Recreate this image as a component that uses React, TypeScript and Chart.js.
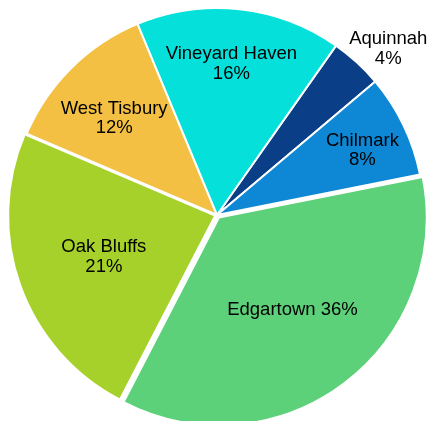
import React, { useEffect, useRef } from "react";
import { Chart, registerables } from "chart.js";

Chart.register(...registerables);

// Data (clockwise from the top-right)
const towns = ["Aquinnah", "Chilmark", "Edgartown", "Oak Bluffs", "West Tisbury", "Vineyard Haven"];
const shares = [4.1, 8.0, 35.7, 23.8, 12.3, 16.0];
const percentLabels = ["4%", "8%", "36%", "21%", "12%", "16%"];
const sliceColors = ["#0A3E86", "#0E87D5", "#5DD07A", "#A6D12A", "#F4C043", "#05E0DA"];

// Label layout: fraction of radius, angular shift (deg) from the slice mid-angle, single-line flag
const labelRadius = [1.158, 0.772, 0.58, 0.58, 0.687, 0.741];
const labelAngleShift = [3.1, 1.2, -2.0, 0.2, -1.6, -0.9];
const singleLine = [false, false, true, false, false, false];
const sliceOffsets = [0, 0, 13, 8, 0, 0];

const labelPlugin = {
  id: "sliceLabels",
  afterDatasetsDraw(chart: any) {
    const ctx = chart.ctx;
    const meta = chart.getDatasetMeta(0);
    ctx.save();
    ctx.fillStyle = "#000000";
    ctx.font = '18.5px "Liberation Sans", Arial, sans-serif';
    ctx.textAlign = "center";
    ctx.textBaseline = "alphabetic";
    meta.data.forEach((arc: any, i: number) => {
      const p = arc.getProps(["x", "y", "startAngle", "endAngle", "outerRadius"], true);
      const mid = (p.startAngle + p.endAngle) / 2 + (labelAngleShift[i] * Math.PI) / 180;
      const r = p.outerRadius * labelRadius[i];
      const x = p.x + Math.cos(mid) * r;
      const y = p.y + Math.sin(mid) * r;
      if (singleLine[i]) {
        ctx.fillText(towns[i] + " " + percentLabels[i], x, y + 6.6);
      } else {
        ctx.fillText(towns[i], x, y - 3.1);
        ctx.fillText(percentLabels[i], x, y + 16.4);
      }
    });
    ctx.restore();
  },
};

export default function App() {
  const ref = useRef<HTMLCanvasElement | null>(null);
  useEffect(() => {
    if (!ref.current) return;
    const chart = new Chart(ref.current, {
      type: "pie",
      data: {
        labels: towns,
        datasets: [
          {
            data: shares,
            backgroundColor: sliceColors,
            borderColor: "#FFFFFF",
            borderWidth: 2,
            offset: sliceOffsets,
            hoverOffset: 0,
          },
        ],
      },
      options: {
        responsive: false,
        animation: false,
        rotation: 35.1,
        radius: 207,
        layout: { padding: { top: 9, bottom: 0, left: 0, right: 0 } },
        plugins: {
          legend: { display: false },
          tooltip: { enabled: false },
        },
        events: [],
      },
      plugins: [labelPlugin],
    });
    return () => chart.destroy();
  }, []);
  return (
    <div style={{ position: "absolute", left: 0, top: 0, width: 434, height: 421, background: "#fff" }}>
      <canvas ref={ref} width={434} height={421} style={{ display: "block" }} />
    </div>
  );
}
